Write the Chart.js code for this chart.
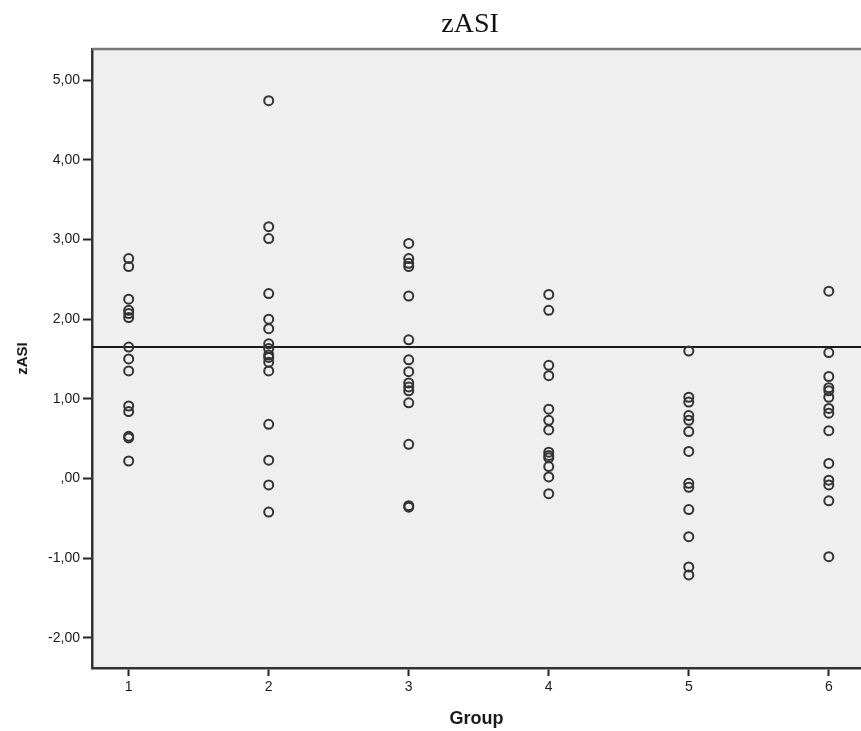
<!DOCTYPE html>
<html>
<head>
<meta charset="utf-8">
<title>zASI</title>
<script src="https://cdn.jsdelivr.net/npm/chart.js@4/dist/chart.umd.min.js"></script>
<style>
  html, body { margin: 0; padding: 0; background: #fff; }
  canvas { display: block; }
</style>
</head>
<body>
<canvas id="grafico" width="861" height="731"></canvas>
<script>
// zASI values per group
const grupos = [1, 2, 3, 4, 5, 6];
const grupo1 = [2.76, 2.66, 2.25, 2.11, 2.07, 2.02, 1.65, 1.50, 1.35, 0.91, 0.84, 0.53, 0.51, 0.22];
const grupo2 = [4.74, 3.16, 3.01, 2.32, 2.00, 1.88, 1.69, 1.63, 1.55, 1.52, 1.46, 1.35, 0.68, 0.23, -0.08, -0.42];
const grupo3 = [2.95, 2.76, 2.70, 2.66, 2.29, 1.74, 1.49, 1.34, 1.20, 1.15, 1.10, 0.95, 0.43, -0.34, -0.36];
const grupo4 = [2.31, 2.11, 1.42, 1.29, 0.87, 0.73, 0.61, 0.33, 0.29, 0.26, 0.15, 0.02, -0.19];
const grupo5 = [1.60, 1.02, 0.96, 0.79, 0.73, 0.59, 0.34, -0.06, -0.11, -0.39, -0.73, -1.11, -1.21];
const grupo6 = [2.35, 1.58, 1.28, 1.14, 1.10, 1.02, 0.88, 0.82, 0.60, 0.19, -0.02, -0.08, -0.28, -0.98];
const valores = [grupo1, grupo2, grupo3, grupo4, grupo5, grupo6];

const linhaRef = 1.65;                 // reference line
const ticksY = [-2, -1, 0, 1, 2, 3, 4, 5];
const ticksX = grupos;
const eixoX = { min: 0.738, max: 6.23 };
const eixoY = { min: -2.377, max: 5.389 };

const pontos = [];
valores.forEach((lista, i) => {
    lista.forEach(v => pontos.push({ x: grupos[i], y: v }));
});

const fonteEixo = "'Liberation Sans', Arial, sans-serif";

const fundoPlugin = {
    id: 'fundo',
    beforeDraw(chart) {
        const { ctx, chartArea: a } = chart;
        ctx.save();
        ctx.fillStyle = '#efefef';
        ctx.fillRect(a.left, a.top, a.right - a.left, a.bottom - a.top);
        ctx.restore();
    },
    afterDraw(chart) {
        const { ctx, chartArea: a } = chart;
        ctx.save();
        // top frame
        ctx.strokeStyle = '#777';
        ctx.lineWidth = 2.5;
        ctx.beginPath();
        ctx.moveTo(a.left, a.top);
        ctx.lineTo(a.right, a.top);
        ctx.stroke();
        // title
        ctx.fillStyle = '#111';
        ctx.font = "28px 'Liberation Serif', 'Times New Roman', serif";
        ctx.textAlign = 'center';
        ctx.textBaseline = 'middle';
        ctx.fillText('zASI', 470, 25);
        ctx.restore();
    }
};

const fixarTicks = lista => scale => { scale.ticks = lista.map(v => ({ value: v })); };
const rotulo = v => {
    const s = v.toFixed(2).replace('.', ',');
    return s === '0,00' ? ',00' : s;
};

new Chart(document.getElementById('grafico'), {
    type: 'scatter',
    data: {
        datasets: [
            {
                label: 'zASI',
                data: pontos,
                pointStyle: 'circle',
                pointRadius: 4.5,
                pointBorderWidth: 2,
                pointBorderColor: '#333',
                pointBackgroundColor: 'rgba(0,0,0,0)',
                showLine: false
            },
            {
                type: 'line',
                label: 'ref',
                data: [{ x: eixoX.min, y: linhaRef }, { x: eixoX.max, y: linhaRef }],
                borderColor: '#1a1a1a',
                borderWidth: 1.8,
                pointRadius: 0,
                fill: false
            }
        ]
    },
    options: {
        responsive: false,
        animation: false,
        layout: { autoPadding: false, padding: { top: 49, right: 0, left: 0, bottom: 0 } },
        plugins: {
            legend: { display: false },
            tooltip: { enabled: false },
            title: { display: false }
        },
        scales: {
            x: {
                type: 'linear',
                min: eixoX.min,
                max: eixoX.max,
                afterBuildTicks: fixarTicks(ticksX),
                afterFit: s => { s.height = 63; s.paddingRight = 0; },
                grid: { display: true, drawOnChartArea: false, drawTicks: true, tickLength: 8, tickColor: '#222', tickWidth: 2 },
                border: { display: true, color: '#333', width: 2.5 },
                ticks: { color: '#1a1a1a', font: { family: fonteEixo, size: 14 }, padding: 3, maxRotation: 0, callback: v => String(v) },
                title: { display: true, text: 'Group', color: '#1a1a1a', font: { family: fonteEixo, size: 18, weight: 'bold' }, padding: { top: 0, bottom: 1 } }
            },
            y: {
                min: eixoY.min,
                max: eixoY.max,
                afterBuildTicks: fixarTicks(ticksY),
                afterFit: s => { s.width = 92; },
                grid: { display: true, drawOnChartArea: false, drawTicks: true, tickLength: 9, tickColor: '#222', tickWidth: 2 },
                border: { display: true, color: '#333', width: 2.5 },
                ticks: { color: '#1a1a1a', font: { family: fonteEixo, size: 14 }, padding: 3, callback: rotulo },
                title: { display: true, text: 'zASI', color: '#1a1a1a', font: { family: fonteEixo, size: 15, weight: 'bold' }, padding: { top: 14, bottom: 0 } }
            }
        }
    },
    plugins: [fundoPlugin]
});
</script>
</body>
</html>
